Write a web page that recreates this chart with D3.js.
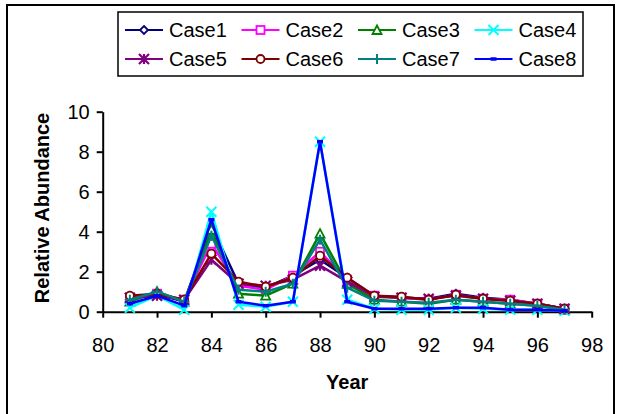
<!DOCTYPE html>
<html><head><meta charset="utf-8">
<script src="https://cdn.jsdelivr.net/npm/d3@7"></script>
<style>
html,body{margin:0;padding:0;background:#fff;}
svg{display:block;font-family:"Liberation Sans",Arial,sans-serif;}
</style></head>
<body>
<svg id="c" width="621" height="414"></svg>
<script>
const years = [81,82,83,84,85,86,87,88,89,90,91,92,93,94,95,96,97];
const caseNames = ["Case1","Case2","Case3","Case4","Case5","Case6","Case7","Case8"];
const case1 = [0.6,0.9,0.5,4.3,1.4,1.2,1.8,2.6,1.7,0.8,0.7,0.65,0.9,0.7,0.6,0.4,0.15];
const case2 = [0.7,0.9,0.6,3.4,1.3,1.1,1.8,3.0,1.6,0.8,0.7,0.6,0.85,0.65,0.6,0.4,0.15];
const case3 = [0.5,1.0,0.5,4.1,0.9,0.8,1.4,3.9,1.4,0.6,0.5,0.4,0.6,0.5,0.4,0.3,0.1];
const case4 = [0.2,0.8,0.1,5.0,0.35,0.25,0.5,8.5,0.6,0.15,0.1,0.1,0.2,0.15,0.1,0.1,0.05];
const case5 = [0.7,0.8,0.6,2.6,1.4,1.3,1.6,2.3,1.5,0.75,0.7,0.65,0.8,0.65,0.55,0.4,0.15];
const case6 = [0.8,0.9,0.6,2.9,1.5,1.25,1.7,2.8,1.7,0.8,0.75,0.6,0.85,0.65,0.55,0.4,0.15];
const case7 = [0.6,1.0,0.5,3.8,1.1,1.0,1.4,3.6,1.2,0.55,0.5,0.45,0.6,0.5,0.4,0.3,0.1];
const case8 = [0.4,0.8,0.3,4.6,0.5,0.3,0.5,8.5,0.5,0.15,0.15,0.15,0.2,0.2,0.1,0.1,0.05];
const xTicks = [80,82,84,86,88,90,92,94,96,98];
const yTicks = [0,2,4,6,8,10];
const colors = ["#000080","#FF00FF","#008000","#00FFFF","#800080","#800000","#008080","#0000FF"];
const markers = ["diamond","square","triangle","x","asterisk","circle","plus","dash"];
const allCases = [case1,case2,case3,case4,case5,case6,case7,case8];

const svg = d3.select("#c");
svg.append("rect").attr("x",7).attr("y",5).attr("width",607).attr("height",420)
  .attr("fill","none").attr("stroke","#000").attr("stroke-width",2);

const x = d3.scaleLinear().domain([80,98]).range([102.7,591.7]);
const y = d3.scaleLinear().domain([0,10]).range([311.7,111.7]);

const gx = svg.append("g").attr("transform",`translate(0,${y(0)})`)
  .call(d3.axisBottom(x).tickValues(xTicks).tickSize(6).tickPadding(20).tickSizeOuter(0));
const gy = svg.append("g").attr("transform",`translate(${x(80)},0)`)
  .call(d3.axisLeft(y).tickValues(yTicks).tickSize(6).tickPadding(7).tickSizeOuter(0));
[gx,gy].forEach(g=>{
  g.selectAll("path,line").attr("stroke","#000").attr("stroke-width",2);
  g.selectAll("text").attr("font-size",20).attr("fill","#000").attr("font-family","Liberation Sans, Arial, sans-serif");
});
gx.selectAll("text").attr("dy","0.35em").attr("y",33);

svg.append("text").attr("x",x(89)).attr("y",389).attr("text-anchor","middle")
  .attr("font-size",20).attr("font-weight","bold").text("Year");
svg.append("text").attr("transform","translate(49,208) rotate(-90)").attr("text-anchor","middle")
  .attr("font-size",20).attr("font-weight","bold").text("Relative Abundance");

function drawMarker(g, type, color, cx, cy){
  const s = 4;
  if(type==="diamond"){
    g.append("path").attr("d",`M${cx},${cy-s}L${cx+s},${cy}L${cx},${cy+s}L${cx-s},${cy}Z`)
     .attr("fill","#fff").attr("stroke",color).attr("stroke-width",1.8);
  } else if(type==="square"){
    g.append("rect").attr("x",cx-s).attr("y",cy-s).attr("width",2*s).attr("height",2*s)
     .attr("fill","#fff").attr("stroke",color).attr("stroke-width",1.8);
  } else if(type==="triangle"){
    g.append("path").attr("d",`M${cx},${cy-s-0.5}L${cx+s+0.5},${cy+s}L${cx-s-0.5},${cy+s}Z`)
     .attr("fill","#fff").attr("stroke",color).attr("stroke-width",1.8);
  } else if(type==="x"){
    const t=5;
    g.append("path").attr("d",`M${cx-t},${cy-t}L${cx+t},${cy+t}M${cx-t},${cy+t}L${cx+t},${cy-t}`)
     .attr("stroke",color).attr("stroke-width",2);
  } else if(type==="asterisk"){
    const t=5;
    g.append("path").attr("d",`M${cx-t},${cy-t}L${cx+t},${cy+t}M${cx-t},${cy+t}L${cx+t},${cy-t}M${cx},${cy-t}L${cx},${cy+t}`)
     .attr("stroke",color).attr("stroke-width",2.2);
  } else if(type==="circle"){
    g.append("circle").attr("cx",cx).attr("cy",cy).attr("r",s)
     .attr("fill","#fff").attr("stroke",color).attr("stroke-width",1.8);
  } else if(type==="plus"){
    const t=5;
    g.append("path").attr("d",`M${cx-t},${cy}L${cx+t},${cy}M${cx},${cy-t}L${cx},${cy+t}`)
     .attr("stroke",color).attr("stroke-width",2);
  } else if(type==="dash"){
    g.append("path").attr("d",`M${cx-3},${cy}L${cx+3},${cy}`)
     .attr("stroke",color).attr("stroke-width",3.5);
  }
}

const line = d3.line().x((d,i)=>x(years[i])).y(d=>y(d));
allCases.forEach((vals,k)=>{
  const g = svg.append("g");
  g.append("path").datum(vals).attr("d",line).attr("fill","none")
    .attr("stroke",colors[k]).attr("stroke-width",2.5).attr("stroke-linejoin","round");
  vals.forEach((v,i)=>drawMarker(g, markers[k], colors[k], x(years[i]), y(v)));
});

const lg = svg.append("g");
lg.append("rect").attr("x",118).attr("y",12).attr("width",465).attr("height",64)
  .attr("fill","#fff").attr("stroke","#000").attr("stroke-width",1.5);
const colX = [125,241.5,358,474.5];
const rowY = [30,59];
caseNames.forEach((name,k)=>{
  const cx = colX[k%4], cy = rowY[Math.floor(k/4)];
  lg.append("line").attr("x1",cx).attr("x2",cx+38).attr("y1",cy).attr("y2",cy)
    .attr("stroke",colors[k]).attr("stroke-width",2.2);
  drawMarker(lg, markers[k], colors[k], cx+19, cy);
  lg.append("text").attr("x",cx+44).attr("y",cy).attr("dy","0.36em")
    .attr("font-size",20).attr("fill","#000").text(name);
});
</script>
</body></html>
